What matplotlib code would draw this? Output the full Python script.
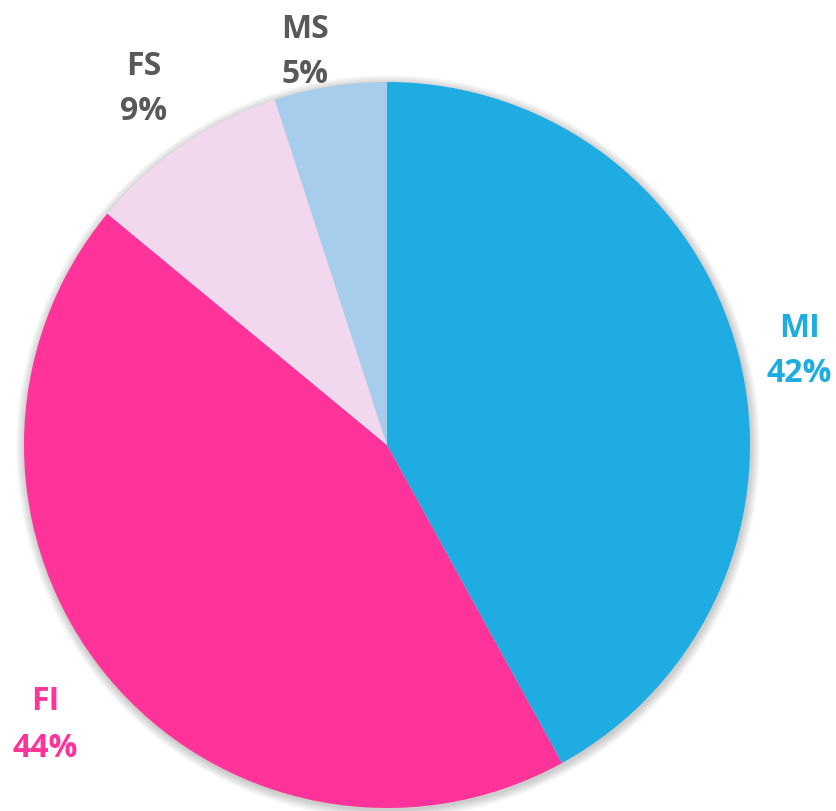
import matplotlib
matplotlib.use("Agg")
import matplotlib.pyplot as plt
from matplotlib.patches import Circle

labels = ["MI", "FI", "FS", "MS"]
values = [42, 44, 9, 5]
colors = ["#1FACE3", "#FF3399", "#F2D8EE", "#A6CDEC"]
label_colors = ["#1FACE3", "#FF3399", "#595959", "#595959"]
# label anchors in pixel coords: (x centre, baseline line1, baseline line2) from top
label_pos = [(799, 337, 382), (45, 710, 757), (144, 75, 120), (305, 38, 83)]

W, H = 836, 812
fig = plt.figure(figsize=(W / 100, H / 100), dpi=100)
ax = fig.add_axes([0, 0, 1, 1])

cx, cy, r = 387, H - 446, 363

# soft shadow
for i in range(10, 0, -1):
    ax.add_patch(Circle((cx + 1, cy - 2), r + i * 0.9, color="black",
                        alpha=0.018, lw=0, zorder=0))

ax.pie(values, colors=colors, startangle=90, counterclock=False,
       center=(cx, cy), radius=r, frame=True,
       wedgeprops=dict(linewidth=0, antialiased=True))
ax.set_xlim(0, W)
ax.set_ylim(0, H)
ax.set_aspect("equal")
ax.axis("off")

for lab, v, col, (px, y1, y2) in zip(labels, values, label_colors, label_pos):
    ax.text(px, H - y1, lab, ha="center", va="baseline",
            color=col, fontsize=23, fontweight="bold", family="Open Sans")
    ax.text(px, H - y2, f"{v}%", ha="center", va="baseline",
            color=col, fontsize=23, fontweight="bold", family="Open Sans")

fig.savefig("out.png", dpi=100)
